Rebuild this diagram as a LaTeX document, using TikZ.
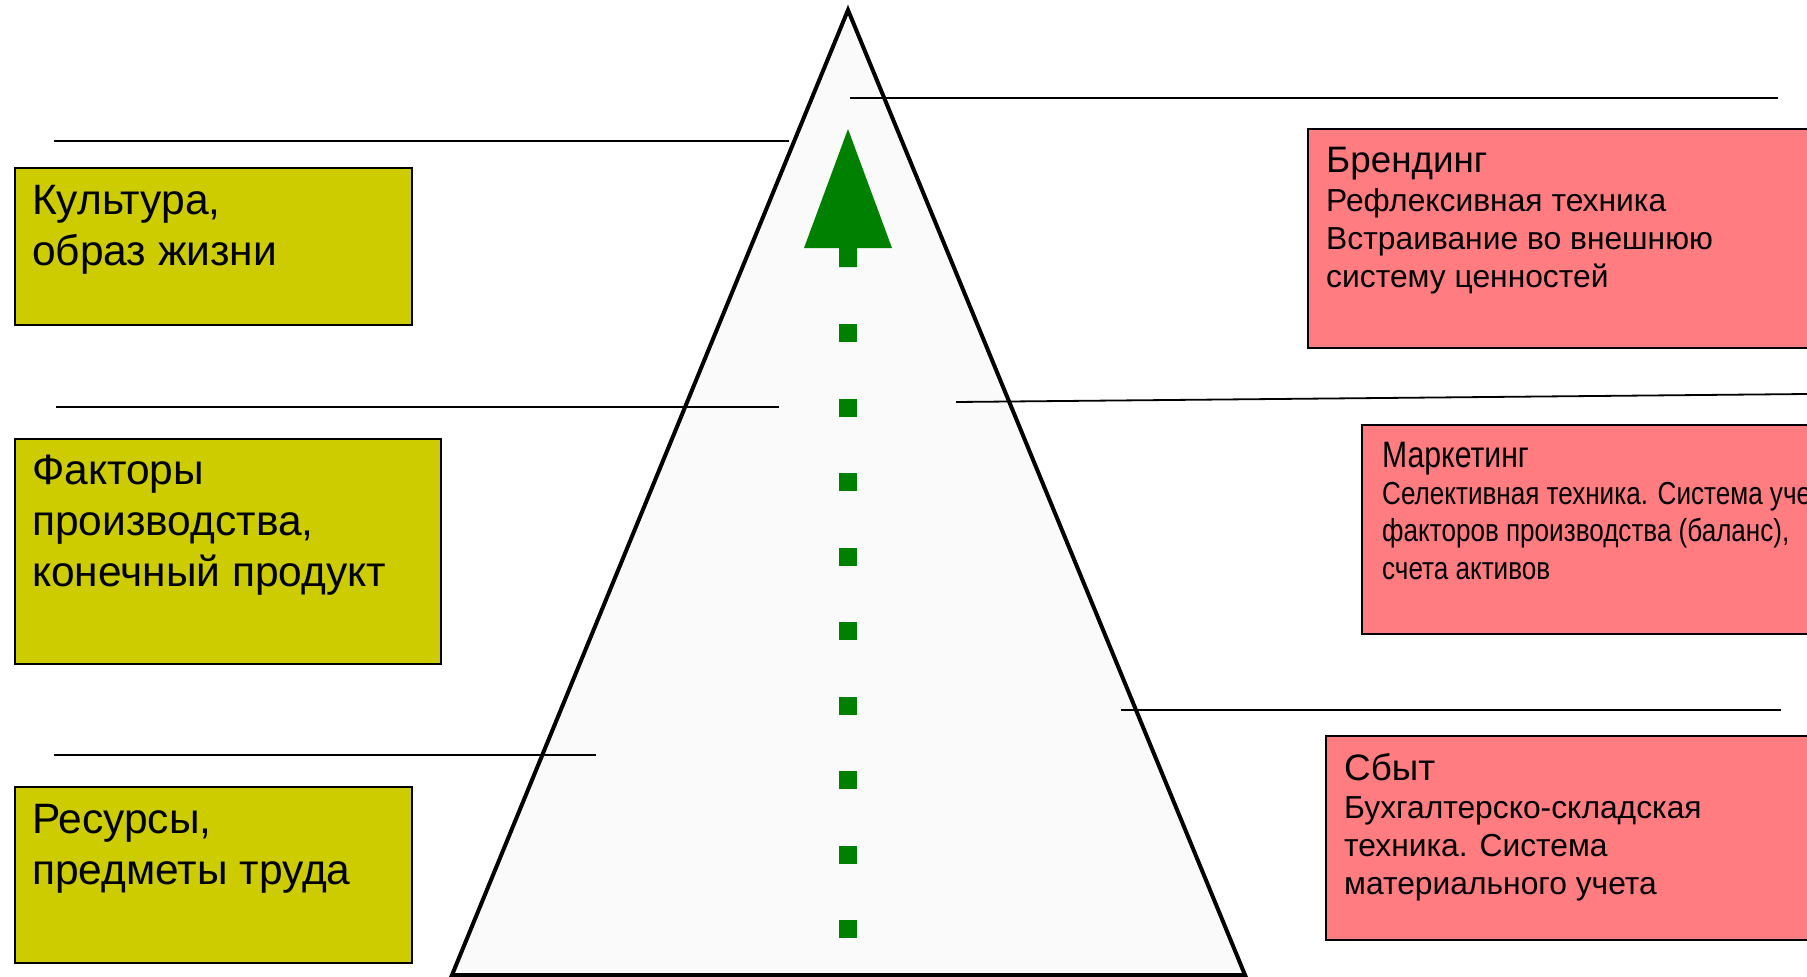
\documentclass[tikz,border=0pt]{standalone}
\usepackage{fontspec}
\setmainfont{Liberation Sans}
\newfontfamily\narrowfont[FakeStretch=0.82]{Liberation Sans}
\usetikzlibrary{positioning}

\definecolor{boxyellow}{HTML}{CCCC00}
\definecolor{boxred}{HTML}{FF7C80}
\definecolor{treegreen}{HTML}{008000}
\definecolor{pyrfill}{HTML}{FAFAFA}

\begin{document}
\begin{tikzpicture}[
	  x=1pt, y=-1pt,
	  ybox/.style={draw, line width=2pt, fill=boxyellow, inner sep=0pt, anchor=north west},
	  rbox/.style={draw, line width=2pt, fill=boxred, inner sep=0pt, anchor=north west},
	  ytext/.style={inner sep=0pt, anchor=north west, align=left, font=\fontsize{42.5}{51}\selectfont},
	  rtitle/.style={inner sep=0pt, anchor=base west, font=\fontsize{36.8}{38}\selectfont},
	  rtext/.style={inner sep=0pt, anchor=north west, align=left, font=\fontsize{31.8}{38.3}\selectfont},
	  level/.style={line width=1.8pt},
	]

	\useasboundingbox (0,0) rectangle (1807,977);
	\clip (0,0) rectangle (1807,977);

	% pyramid
	\draw [line width=4pt, fill=pyrfill] (848,10) -- (1245,975) -- (452,975) -- cycle;

	% levels
	\draw [level] (54,141) -- (789,141);
	\draw [level] (850,98) -- (1778,98);
	\draw [level] (56,407) -- (779,407);
	\draw [level] (956,402) -- (1807,394);
	\draw [level] (54,755) -- (596,755);
	\draw [level] (1121,710) -- (1781,710);

	% growth arrow
	\fill [treegreen] (848,129) -- (892,248) -- (857,248) -- (857,267)
	  -- (839,267) -- (839,248) -- (804,248) -- cycle;
	\foreach \k in {0,...,8}
	  \fill [treegreen] (839,324+74.5*\k) rectangle ++(18,18);

	% left boxes
	\node [ybox, minimum width=397pt, minimum height=157pt] (kult) at (14,167) {};
	\node [ytext] (kulttxt) at ([xshift=18pt, yshift=-18pt]kult.north west) {Культура,\\образ жизни};

	\node [ybox, minimum width=426pt, minimum height=225pt] (fakt) at (14,438) {};
	\node [ytext] (fakttxt) at ([xshift=18pt, yshift=-17pt]fakt.north west) {Факторы\\производства,\\конечный продукт};

	\node [ybox, minimum width=397pt, minimum height=176pt] (res) at (14,786) {};
	\node [ytext] (restxt) at ([xshift=18pt, yshift=-18pt]res.north west) {Ресурсы,\\предметы труда};

	% right boxes
	\node [rbox, minimum width=523pt, minimum height=219pt] (brand) at (1307,128) {};
	\node [rtitle] (brandttl) at ([xshift=19pt, yshift=-44pt]brand.north west) {Брендинг};
	\node [rtext] (brandtxt) at ([xshift=19pt, yshift=-60pt]brand.north west)
	  {Рефлексивная техника\\Встраивание во внешнюю\\систему ценностей};

	\node [rbox, minimum width=469pt, minimum height=209pt] (mark) at (1361,424) {};
	\node [rtitle, font=\narrowfont\fontsize{36.8}{38}\selectfont] (markttl) at ([xshift=21pt, yshift=-43pt]mark.north west) {Маркетинг};
	\node [rtext, font=\narrowfont\fontsize{31.8}{37.5}\selectfont] (marktxt) at ([xshift=21pt, yshift=-58pt]mark.north west)
	  {Селективная техника. Система учета\\факторов производства (баланс),\\счета активов};

	\node [rbox, minimum width=505pt, minimum height=204pt] (sbyt) at (1325,735) {};
	\node [rtitle] (sbytttl) at ([xshift=19pt, yshift=-45pt]sbyt.north west) {Сбыт};
	\node [rtext] (sbyttxt) at ([xshift=19pt, yshift=-61pt]sbyt.north west)
	  {Бухгалтерско-складская\\техника. Система\\материального учета};
	\end{tikzpicture}
\end{document}
